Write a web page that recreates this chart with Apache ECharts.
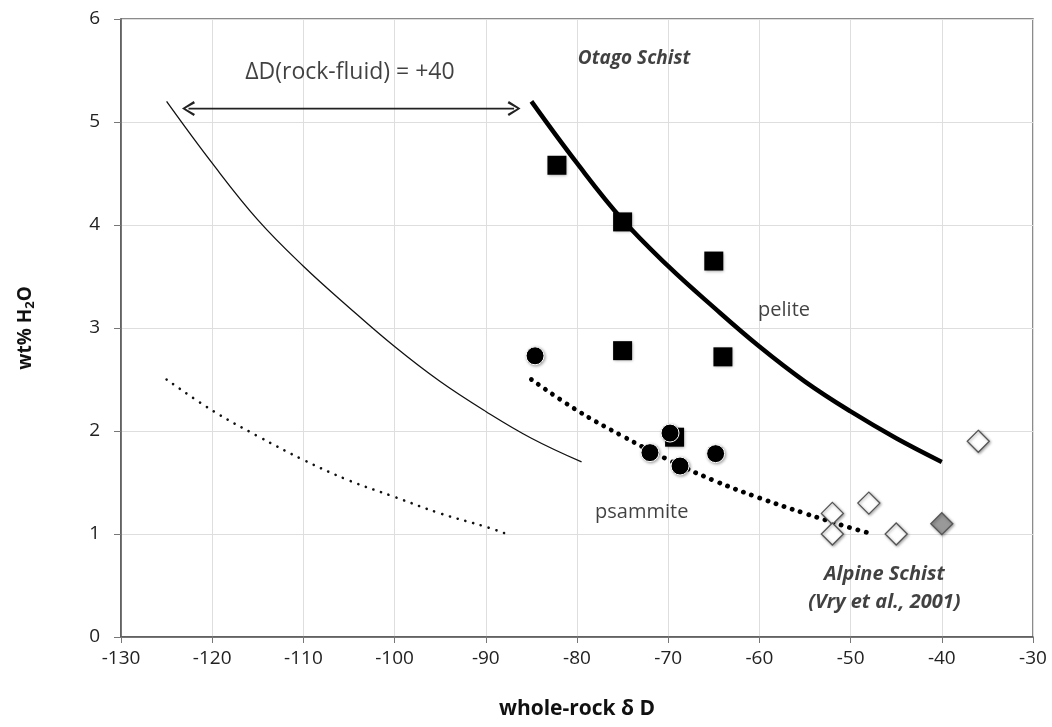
<!DOCTYPE html>
<html><head><meta charset="utf-8">
<script src="https://cdn.jsdelivr.net/npm/echarts@6/dist/echarts.min.js"></script>
<style>html,body{margin:0;padding:0;background:#fff}#c{width:1052px;height:727px}</style>
</head><body><div id="c"></div>
<script>
// ---- data ----
const xTickRange = [-130, -30, 10];
const yTickRange = [0, 6, 1];

const otagoPelite = [[-82.2,4.58],[-75,4.03],[-65,3.65],[-75,2.78],[-64,2.72],[-69.3,1.94]];
const otagoPsammite = [[-84.6,2.73],[-69.8,1.98],[-72,1.79],[-68.7,1.66],[-64.8,1.78]];
const alpineOpen = [[-36,1.9],[-52,1.2],[-52,1.0],[-48,1.3],[-45,1.0]];
const alpineGrey = [[-40,1.1]];

const peliteCurve = [[-85,5.2],[-80,4.6],[-75,4.05],[-70,3.6],[-65,3.2],[-60,2.82],[-55,2.48],[-50,2.19],[-45,1.93],[-40,1.7]];
const fluidPeliteCurve = [[-125,5.2],[-120,4.6],[-115,4.05],[-110,3.6],[-105,3.2],[-100,2.82],[-95,2.48],[-90,2.19],[-85,1.93],[-79.5,1.7]];
const psammiteCurve = [[-85,2.5],[-80,2.2],[-75,1.95],[-70,1.72],[-65,1.52],[-60,1.35],[-55,1.2],[-50,1.06],[-48,1.01]];
const fluidPsammiteCurve = [[-125,2.5],[-120,2.2],[-115,1.95],[-110,1.72],[-105,1.52],[-100,1.36],[-95,1.2],[-90,1.07],[-88,1.01]];

const arrowEnds = [[-122.6,5.13],[-86.9,5.13]];

const annotTexts = ['ΔD(rock-fluid) = +40','Otago Schist','pelite','psammite','Alpine Schist\n(Vry et al., 2001)'];
const annotCoords = [[-104.9,5.48],[-73.75,5.62],[-57.3,3.17],[-72.9,1.21],[-46.3,0.475]];

const xAxisTitle = 'whole-rock δ D';
const yAxisTitle = 'wt% H{sub|2}O';

// ---- chart ----
const FONT = 'Open Sans';
const chevron = 'path://M9,0 L0,5 L9,10 L10,8.6 L2.6,5 L10,1.4 Z';
const annotStyles = [
  {fontSize:23, fontWeight:'normal', fontStyle:'normal'},
  {fontSize:19, fontWeight:'bold', fontStyle:'italic'},
  {fontSize:20, fontWeight:'normal', fontStyle:'normal'},
  {fontSize:20, fontWeight:'normal', fontStyle:'normal'},
  {fontSize:20, fontWeight:'bold', fontStyle:'italic', lineHeight:28}
];

const chart = echarts.init(document.getElementById('c'), null, {renderer:'canvas'});
const markerShadow = {opacity:1, shadowColor:'rgba(0,0,0,0.35)', shadowBlur:3, shadowOffsetX:1, shadowOffsetY:1};

chart.setOption({
  animation:false,
  backgroundColor:'#fff',
  grid:{left:121, right:19, top:19, bottom:90, show:true, borderColor:'#666', borderWidth:1.5, backgroundColor:'transparent'},
  xAxis:{
    type:'value', min:xTickRange[0], max:xTickRange[1], interval:xTickRange[2],
    name:xAxisTitle, nameLocation:'middle', nameGap:62,
    nameTextStyle:{fontFamily:FONT, fontSize:21, fontWeight:'bold', color:'#111'},
    axisLine:{show:true, onZero:false, lineStyle:{color:'#555', width:1.5}},
    axisTick:{show:true, inside:false, length:6, lineStyle:{color:'#777'}},
    axisLabel:{fontFamily:FONT, fontSize:19, color:'#222', margin:12},
    splitLine:{show:true, lineStyle:{color:'#dedede', width:1}}
  },
  yAxis:{
    type:'value', min:yTickRange[0], max:yTickRange[1], interval:yTickRange[2],
    name:yAxisTitle, nameLocation:'middle', nameRotate:90, nameGap:84,
    nameTextStyle:{fontFamily:FONT, fontSize:19, fontWeight:'bold', color:'#111',
      rich:{sub:{fontFamily:FONT, fontSize:13, fontWeight:'bold', color:'#111', verticalAlign:'bottom', padding:[9,0,0,0]}}},
    axisLine:{show:true, onZero:false, lineStyle:{color:'#555', width:1.5}},
    axisTick:{show:true, inside:false, length:7, lineStyle:{color:'#777'}},
    axisLabel:{fontFamily:FONT, fontSize:19, color:'#222', margin:21},
    splitLine:{show:true, lineStyle:{color:'#dedede', width:1}}
  },
  series:[
    {type:'line', data:fluidPeliteCurve, smooth:0.4, showSymbol:false, symbol:'none', lineStyle:{color:'#111', width:1.3}, z:2},
    {type:'line', data:peliteCurve, smooth:0.4, showSymbol:false, symbol:'none', lineStyle:{color:'#000', width:4.5}, z:2},
    {type:'line', data:fluidPsammiteCurve, smooth:0.4, showSymbol:false, symbol:'none', lineStyle:{color:'#111', width:2.6, type:[0.1,8], cap:'round'}, z:2},
    {type:'line', data:psammiteCurve, smooth:0.4, showSymbol:false, symbol:'none', lineStyle:{color:'#000', width:4.8, type:[0.1,8.5], cap:'round'}, z:2},
    {type:'line', data:arrowEnds.map((p,i)=>({value:p, symbol:chevron, symbolSize:[13,15], symbolRotate:i===0?0:180, symbolKeepAspect:false})),
      showSymbol:true, lineStyle:{color:'#222', width:1.8}, itemStyle:{color:'#222', opacity:1}, z:3},
    {type:'scatter', data:otagoPelite, symbol:'rect', symbolSize:19, itemStyle:Object.assign({color:'#000'}, markerShadow), z:4},
    {type:'scatter', data:otagoPsammite, symbol:'circle', symbolSize:18, itemStyle:Object.assign({color:'#000', borderColor:'#fff', borderWidth:1}, markerShadow), z:5},
    {type:'scatter', data:alpineOpen, symbol:'diamond', symbolSize:[22,22], itemStyle:Object.assign({color:'#fff', borderColor:'#555', borderWidth:1.3}, markerShadow), z:4},
    {type:'scatter', data:alpineGrey, symbol:'diamond', symbolSize:[22,22], itemStyle:Object.assign({color:'#999', borderColor:'#555', borderWidth:1.3}, markerShadow), z:4},
    {type:'scatter', silent:true, symbolSize:0, z:6,
      data:annotCoords.map((p,i)=>({value:p, label:Object.assign({show:true, position:'inside', formatter:annotTexts[i], fontFamily:FONT, color:'#111', align:'center', verticalAlign:'middle'}, annotStyles[i])}))}
  ]
});
</script>
</body></html>
